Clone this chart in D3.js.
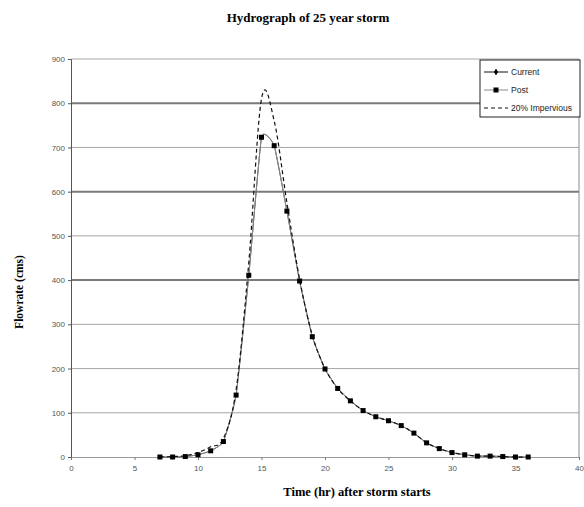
<!DOCTYPE html>
<html>
<head>
<meta charset="utf-8">
<script src="https://cdn.jsdelivr.net/npm/d3@7"></script>
<style>
  body { margin: 0; background: #fff; }
  svg { display: block; }
  .tick text { font-family: "Liberation Sans", Arial, sans-serif; font-size: 8px; fill: #555; }
</style>
</head>
<body>
<svg id="hydro" width="584" height="507"></svg>
<script>
// hours after storm start
var hours = [7,8,9,10,11,12,13,14,15,16,17,18,19,20,21,22,23,24,25,26,27,28,29,30,31,32,33,34,35,36];

var current = [0,0,1,5,14,35,140,411,723,704,556,398,272,199,155,127,105,91,82,71,54,32,19,10,5,2,2,1,0,0];
var post    = [0,0,1,5,14,35,140,411,723,704,556,398,272,199,155,127,105,91,82,71,54,32,19,10,5,2,2,1,0,0];
var imperv  = [0,1,3,10,23,42,152,440,810,760,575,402,275,200,155,127,105,91,82,71,54,32,19,10,5,2,2,1,0,0];

var xTicks = [0,5,10,15,20,25,30,35,40];
var yTicks = [0,100,200,300,400,500,600,700,800,900];
var heavyLines = [400,600,800];

var seriesNames = ["Current", "Post", "20% Impervious"];

var svg = d3.select("#hydro");

var margin = {top: 59, left: 71, bottom: 50, right: 5},
    width = 584 - margin.right,
    height = 507 - margin.bottom;

var x = d3.scaleLinear().domain([0, 40]).range([margin.left, width]);
var y = d3.scaleLinear().domain([0, 900]).range([height, margin.top]);

// gridlines
svg.append("g")
    .selectAll("line")
    .data(yTicks.slice(1))
    .enter().append("line")
    .attr("x1", x(0))
    .attr("x2", x(40))
    .attr("y1", d => y(d))
    .attr("y2", d => y(d))
    .attr("stroke", d => heavyLines.indexOf(d) >= 0 ? "#7a7a7a" : "#a6a6a6")
    .attr("stroke-width", d => heavyLines.indexOf(d) >= 0 ? 2 : 1);

// right border of plot
svg.append("line")
    .attr("x1", x(40)).attr("x2", x(40))
    .attr("y1", y(900)).attr("y2", y(0))
    .attr("stroke", "#8a8a8a");

var yAxis = svg.append("g")
    .attr("transform", `translate(${margin.left},0)`)
    .call(d3.axisLeft(y).tickValues(yTicks).tickSize(3).tickPadding(3));
yAxis.select(".domain").attr("stroke", "#555");
yAxis.selectAll(".tick line").attr("stroke", "#555");

var xAxis = svg.append("g")
    .attr("transform", `translate(0,${height})`)
    .call(d3.axisBottom(x).tickValues(xTicks).tickSize(3).tickPadding(5));
xAxis.select(".domain").attr("stroke", "#999");
xAxis.selectAll(".tick line").attr("stroke", "#777");

var zip = function(vals) { return hours.map((h, i) => [h, vals[i]]); };

var line = function(tension) {
    return d3.line()
        .x(d => x(d[0]))
        .y(d => y(d[1]))
        .curve(d3.curveCardinal.tension(tension));
};

svg.append("path")
    .datum(zip(current))
    .attr("fill", "none")
    .attr("stroke", "#444")
    .attr("stroke-width", 1)
    .attr("d", line(0.6));

svg.append("path")
    .datum(zip(post))
    .attr("fill", "none")
    .attr("stroke", "#888")
    .attr("stroke-width", 1)
    .attr("d", line(0.6));

svg.append("path")
    .datum(zip(imperv))
    .attr("fill", "none")
    .attr("stroke", "#111")
    .attr("stroke-width", 1.2)
    .attr("stroke-dasharray", "4,3")
    .attr("d", line(0));

svg.append("g")
    .selectAll("rect")
    .data(zip(post))
    .enter().append("rect")
    .attr("x", d => x(d[0]) - 2.5)
    .attr("y", d => y(d[1]) - 2.5)
    .attr("width", 5)
    .attr("height", 5)
    .attr("fill", "#000");

// titles
svg.append("text")
    .attr("x", 308)
    .attr("y", 22)
    .attr("text-anchor", "middle")
    .style("font-family", "'Liberation Serif', 'Times New Roman', serif")
    .style("font-weight", "bold")
    .style("font-size", "13px")
    .text("Hydrograph of 25 year storm");

svg.append("text")
    .attr("x", 357)
    .attr("y", 496)
    .attr("text-anchor", "middle")
    .style("font-family", "'Liberation Serif', 'Times New Roman', serif")
    .style("font-weight", "bold")
    .style("font-size", "12.5px")
    .text("Time (hr) after storm starts");

svg.append("text")
    .attr("transform", "translate(23,292) rotate(-90)")
    .attr("text-anchor", "middle")
    .style("font-family", "'Liberation Serif', 'Times New Roman', serif")
    .style("font-weight", "bold")
    .style("font-size", "11.5px")
    .text("Flowrate (cms)");

// legend
var legend = svg.append("g").attr("transform", "translate(480,60)");

legend.append("rect")
    .attr("width", 100)
    .attr("height", 57)
    .attr("fill", "#fff")
    .attr("stroke", "#222")
    .attr("stroke-width", 1);

var item = legend.selectAll("g.item")
    .data(seriesNames)
    .enter().append("g")
    .attr("class", "item")
    .attr("transform", (d, i) => `translate(4,${12 + i * 18})`);

item.append("line")
    .attr("x1", 0).attr("x2", 24)
    .attr("stroke", (d, i) => i === 1 ? "#888" : "#111")
    .attr("stroke-width", (d, i) => i === 2 ? 1.2 : 1)
    .attr("stroke-dasharray", (d, i) => i === 2 ? "4,3" : null);

item.filter((d, i) => i === 0).append("path")
    .attr("d", d3.symbol().type(d3.symbolDiamond).size(14))
    .attr("transform", "translate(12,0)")
    .attr("fill", "#000");

item.filter((d, i) => i === 1).append("rect")
    .attr("x", 9.5).attr("y", -2.5)
    .attr("width", 5).attr("height", 5)
    .attr("fill", "#000");

item.append("text")
    .attr("x", 27)
    .attr("dy", "0.33em")
    .style("font-family", "'Liberation Sans', Arial, sans-serif")
    .style("font-size", "8.5px")
    .style("fill", "#222")
    .text(d => d);
</script>
</body>
</html>
